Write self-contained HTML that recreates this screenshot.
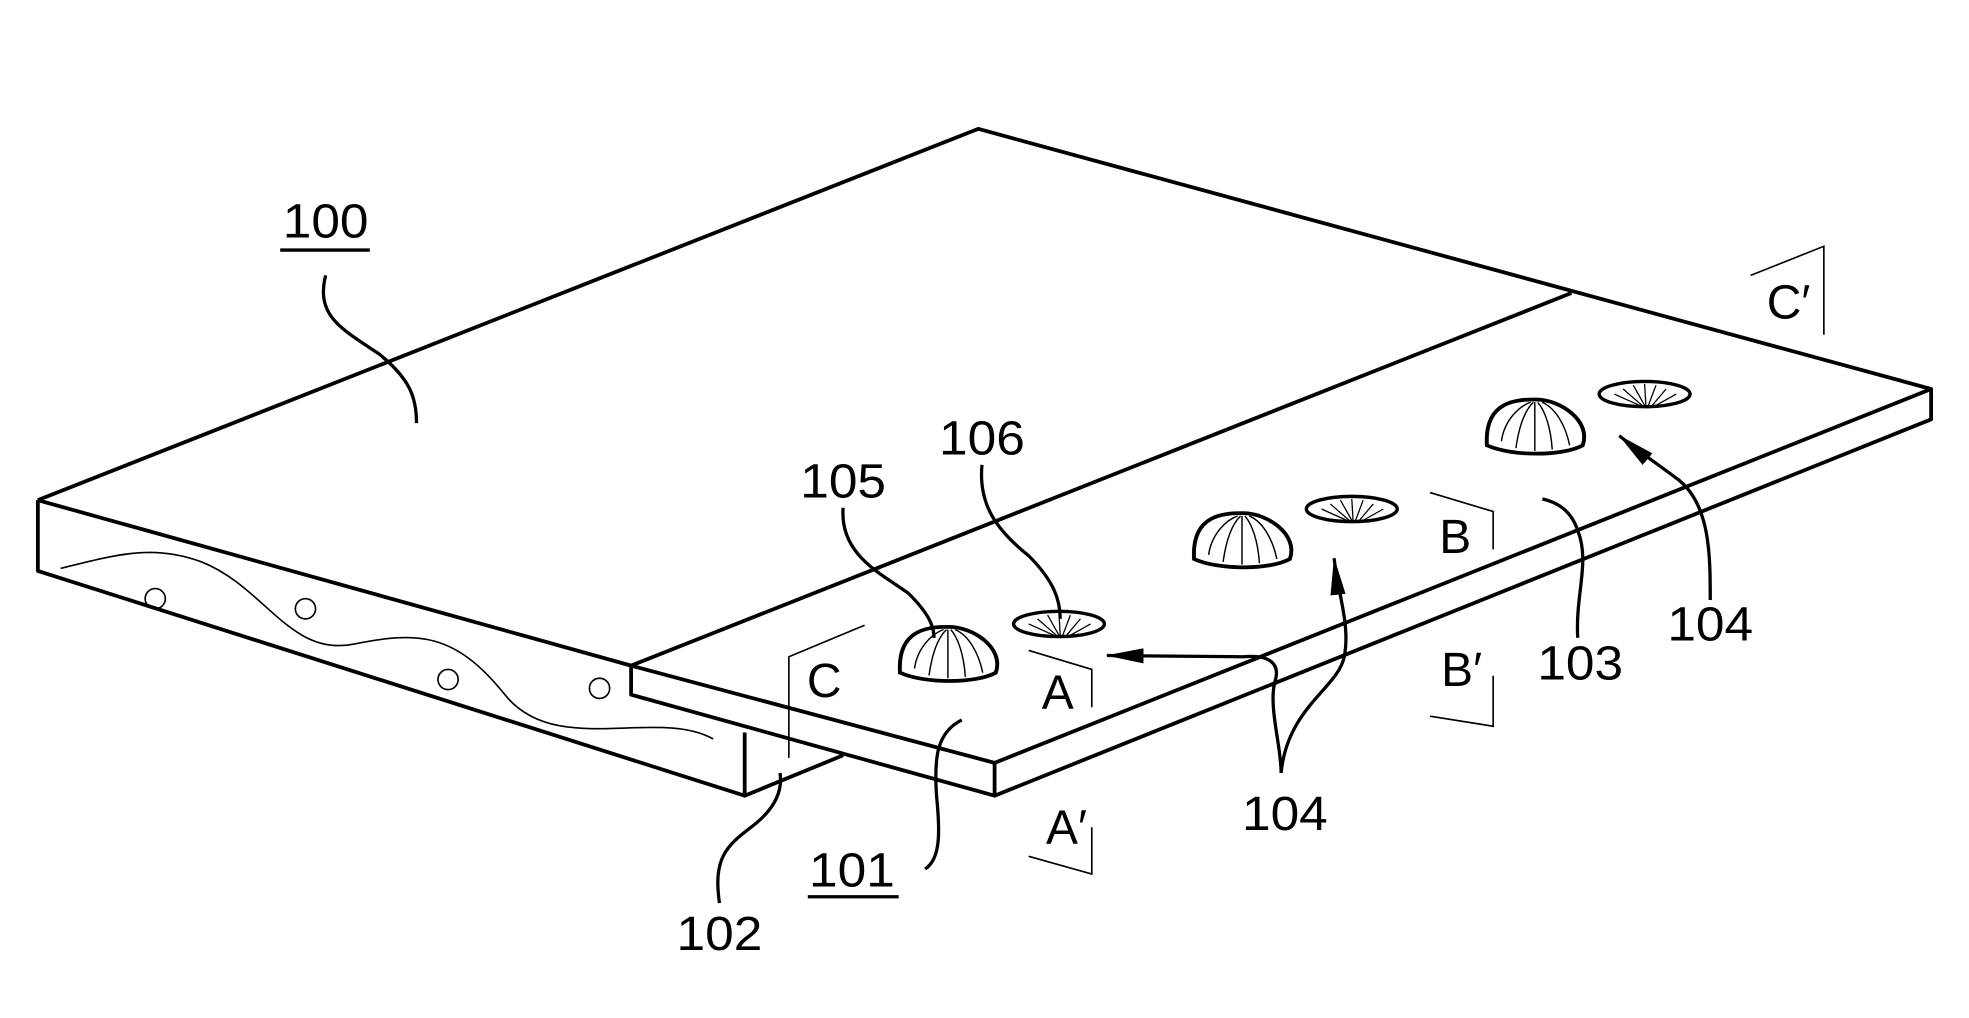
<!DOCTYPE html>
<html><head><style>html,body{margin:0;padding:0;background:#fff;}svg{display:block}</style></head>
<body>
<svg width="1969" height="1018" viewBox="0 0 1560 806" preserveAspectRatio="none" xmlns="http://www.w3.org/2000/svg">
<defs>
<marker id="ah2" viewBox="0 0 30 12" refX="29" refY="6" markerWidth="30" markerHeight="12" orient="auto" markerUnits="userSpaceOnUse"><path d="M0,0 L30,6 L0,12 z" fill="#000"/></marker></defs>
<g fill="none" stroke="#000" stroke-width="3" stroke-linejoin="round">
<path d="M30,396 L775,102 L1530,308"/>
<path d="M30,396 L500,527"/>
<path d="M30,396 L30,452 L590,630 L590,580"/>
<path d="M590,630 L668,598"/>
<path d="M1245,232 L500,527"/>
<path d="M500,527 L788,604 L1530,308 L1530,332 L788,630 L500,550 Z"/>
<path d="M788,604 L788,630"/>
</g>
<g fill="none" stroke="#000" stroke-width="1.3">
<path d="M48,450 C90,440 120,430 160,445 C210,465 230,520 280,510 C330,500 360,500 400,550 C440,600 520,560 565,585"/>
<ellipse cx="123" cy="474" rx="8" ry="8"/><ellipse cx="242" cy="482" rx="8" ry="8"/>
<ellipse cx="355" cy="538" rx="8" ry="8"/><ellipse cx="475" cy="545" rx="8" ry="8"/>
<path d="M685,495 L625,520 L625,600"/>
<path d="M815,515 L865,530 L865,560"/>
<path d="M815,678 L865,692 L865,655"/>
<path d="M1133,390 L1183,405 L1183,435"/>
<path d="M1133,567 L1183,575 L1183,535"/>
<path d="M1387,218 L1445,195 L1445,265"/>
</g>
<g id="d" fill="none" stroke="#000" transform="translate(751,537) scale(1.15,1.1) translate(-751,-537)">
<path d="M718,533 C716,500 740,500 752,500 C768,500 790,515 784,533 C770,541 735,541 718,533 Z" stroke-width="2.7"/>
<path d="M728,530 C730,515 740,505 748,502 M738,535 C740,520 744,508 750,502 M751,537 L751,502 M763,536 C762,520 758,508 753,502 M775,533 C772,518 765,506 756,502" stroke-width="1"/>
</g>
<use href="#d" transform="translate(233,-90)"/>
<use href="#d" transform="translate(465,-180)"/>
<g id="e" fill="none" stroke="#000">
<ellipse cx="839" cy="494" rx="36" ry="10" stroke-width="2.7"/>
<path d="M815,494 L835,503 M822,490 L837,503 M830,487 L839,503 M839,486 L840,503 M848,487 L842,503 M856,490 L845,503 M864,494 L848,503" stroke-width="1"/>
</g>
<use href="#e" transform="translate(232,-91)"/>
<use href="#e" transform="translate(464,-182)"/>
<g fill="none" stroke="#000" stroke-width="2.6">
<path d="M258,218 C250,250 270,260 300,280 C325,300 330,315 330,335"/>
<path d="M668,402 C665,440 700,455 720,470 C735,485 740,495 740,505"/>
<path d="M778,368 C775,400 790,420 815,440 C835,460 840,475 840,490"/>
<path d="M733,688 C745,680 745,660 742,630 C740,600 742,580 762,570"/>
<path d="M570,715 C565,680 575,670 595,655 C615,640 620,625 618,612"/>
<path d="M1250,505 C1248,470 1260,445 1250,420 C1245,405 1235,398 1222,395"/>
<path d="M1015,612 C1015,590 1005,560 1010,540 C1015,525 1005,518 985,520 L877,519" marker-end="url(#ah2)"/>
<path d="M1015,612 C1020,560 1060,545 1065,520 C1070,495 1060,470 1057,442" marker-end="url(#ah2)"/>
<path d="M1355,475 C1355,440 1355,400 1330,380 C1310,365 1295,355 1283,345" marker-end="url(#ah2)"/>
<line x1="222" y1="198" x2="293" y2="198"/>
<line x1="640" y1="710" x2="712" y2="710"/>
</g>
<g font-family="Liberation Sans, sans-serif" font-size="38" fill="#000" text-anchor="middle">
<text x="258" y="188" textLength="68" lengthAdjust="spacingAndGlyphs">100</text>
<text x="668" y="394" textLength="68" lengthAdjust="spacingAndGlyphs">105</text>
<text x="778" y="360" textLength="68" lengthAdjust="spacingAndGlyphs">106</text>
<text x="675" y="702" textLength="68" lengthAdjust="spacingAndGlyphs">101</text>
<text x="570" y="752" textLength="68" lengthAdjust="spacingAndGlyphs">102</text>
<text x="1252" y="538" textLength="68" lengthAdjust="spacingAndGlyphs">103</text>
<text x="1018" y="657" textLength="68" lengthAdjust="spacingAndGlyphs">104</text>
<text x="1355" y="507" textLength="68" lengthAdjust="spacingAndGlyphs">104</text>
<text x="653" y="552">C</text>
<text x="838" y="561">A</text>
<text x="845" y="668">A′</text>
<text x="1153" y="438">B</text>
<text x="1158" y="543">B′</text>
<text x="1417" y="252">C′</text>
</g>
</svg>
</body></html>
